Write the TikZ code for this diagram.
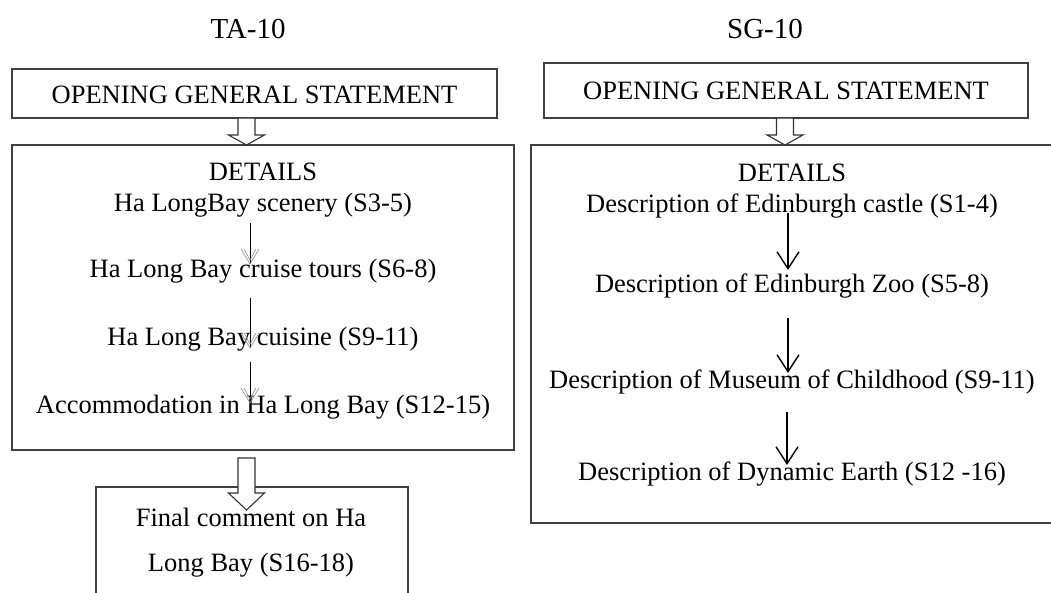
\documentclass[tikz,border=0pt]{standalone}
\usepackage{fontspec}
\setmainfont{Liberation Serif}
\usetikzlibrary{calc,arrows.meta}
\tikzset{
 txt/.style={anchor=base, inner sep=0pt, font=\fontsize{26.5}{30}\selectfont},
 ttl/.style={anchor=base, inner sep=0pt, font=\fontsize{29}{33}\selectfont},
 boxline/.style={draw=black!75, line width=1.3pt},
 hollow/.style={draw=black!80, line width=1.1pt, fill=white, line join=miter},
 thinarr/.style={draw=black, line width=0.8pt},
 grayhead/.style={draw=black!45, line width=0.6pt},
 bigarr/.style={draw=black, line width=1.4pt, -{Straight Barb[length=17pt,width=22pt]}}
}
\newcommand\hollowarr[3]{% top coord, tip coord, head length
  \path[hollow] ($(#1)+(-8.5,0)$) -- ($(#2)+(-8.5,-#3)$) -- ($(#2)+(-18,-#3)$) -- (#2)
     -- ($(#2)+(18,-#3)$) -- ($(#2)+(8.5,-#3)$) -- ($(#1)+(8.5,0)$) -- cycle;}
\newcommand\dblhead[1]{%
  \draw[grayhead] ($(#1)+(-9,-15)$) -- (#1) -- ($(#1)+(9,-15)$);
  \draw[grayhead] ($(#1)+(-6,-15)$) -- ($(#1)+(0,-4)$) -- ($(#1)+(6,-15)$);}
\begin{document}
\begin{tikzpicture}[x=1pt,y=-1pt]
\useasboundingbox[fill=white] (0,0) rectangle (1051,593);

% titles
\node[ttl] (tA) at (248,39) {TA-10};
\node[ttl] (tS) at (765,39) {SG-10};

% ---------- left column ----------
\draw[boxline] (12,69) rectangle (497,118);
\node[txt] (lopen) at (254.5,104) {OPENING GENERAL STATEMENT};

\draw[boxline] (12,145) rectangle (514,450);
\node[txt] (ldet) at (263,181) {DETAILS};
\node[txt] (l1) at (263,212) {Ha LongBay scenery (S3-5)};
\node[txt] (l2) at (263,278) {Ha Long Bay cruise tours (S6-8)};
\node[txt] (l3) at (263,345) {Ha Long Bay cuisine (S9-11)};
\node[txt] (l4) at (263,413) {Accommodation in Ha Long Bay (S12-15)};

\draw[boxline] (96,593) -- (96,487) -- (408,487) -- (408,593);
\node[txt] (lf1) at (251,526) {Final comment on Ha};
\node[txt] (lf2) at (251,571) {Long Bay (S16-18)};

% hollow arrows left
\coordinate (h1a) at (246.5,118); \coordinate (h1b) at (246.5,145);
\hollowarr{h1a}{h1b}{10}
\coordinate (h2a) at (246.5,458); \coordinate (h2b) at (246.5,510);
\hollowarr{h2a}{h2b}{17}

% thin arrows left
\coordinate (a1s) at (250,223); \coordinate (a1e) at (250,264);
\coordinate (a2s) at (250,298); \coordinate (a2e) at (250,348);
\coordinate (a3s) at (250,362); \coordinate (a3e) at (250,403);
\draw[thinarr] (a1s) -- (a1e); \dblhead{a1e}
\draw[thinarr] (a2s) -- (a2e); \dblhead{a2e}
\draw[thinarr] (a3s) -- (a3e); \dblhead{a3e}

% ---------- right column ----------
\draw[boxline] (544,63) rectangle (1028,118);
\node[txt] (ropen) at (786,100) {OPENING GENERAL STATEMENT};

\draw[boxline] (1052,145) -- (531,145) -- (531,523) -- (1052,523);
\node[txt] (rdet) at (792,182) {DETAILS};
\node[txt] (r1) at (792,213) {Description of Edinburgh castle (S1-4)};
\node[txt] (r2) at (792,293) {Description of Edinburgh Zoo (S5-8)};
\node[txt] (r3) at (792,388) {Description of Museum of Childhood (S9-11)};
\node[txt] (r4) at (792,480) {Description of Dynamic Earth (S12 -16)};

\coordinate (h3a) at (785,118); \coordinate (h3b) at (785,145);
\hollowarr{h3a}{h3b}{10}

\coordinate (b1s) at (788,213); \coordinate (b1e) at (788,270);
\coordinate (b2s) at (788,318); \coordinate (b2e) at (788,373);
\coordinate (b3s) at (787,412); \coordinate (b3e) at (787,465);
\draw[bigarr] (b1s) -- (b1e);
\draw[bigarr] (b2s) -- (b2e);
\draw[bigarr] (b3s) -- (b3e);
\end{tikzpicture}
\end{document}
